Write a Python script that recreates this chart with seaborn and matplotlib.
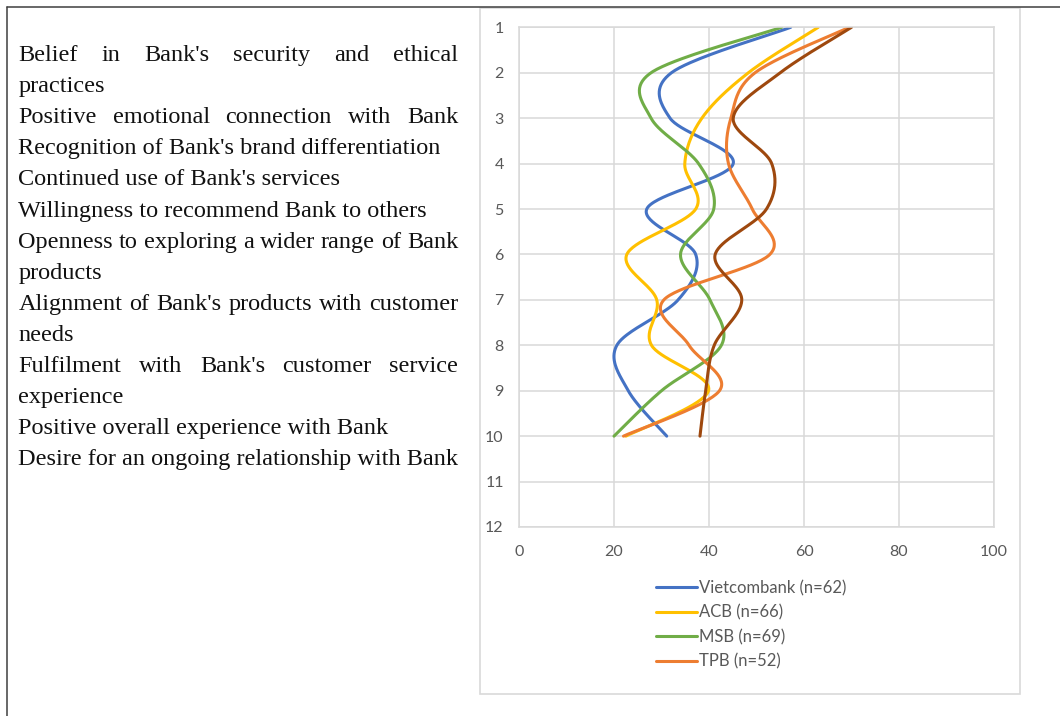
import numpy as np
import pandas as pd
import matplotlib
matplotlib.use("Agg")
import matplotlib.pyplot as plt
import seaborn as sns
from matplotlib.lines import Line2D
from matplotlib.patches import Rectangle

# ---- data -------------------------------------------------------------
levels = list(range(1, 11))
vietcombank = [57.2, 32.1, 31.8, 45.1, 26.9, 37.2, 33.5, 20.6, 23.0, 31.1]
acb = [63.0, 48.3, 38.5, 34.9, 37.2, 22.7, 29.0, 27.9, 39.9, 22.5]
msb = [55.3, 27.8, 27.8, 37.8, 41.0, 34.0, 40.2, 42.6, 30.0, 20.0]
tpb = [69.5, 49.7, 44.6, 44.1, 49.1, 52.8, 30.5, 35.8, 42.2, 22.0]
fifth_series = [70.0, 55.0, 45.1, 53.2, 52.1, 41.3, 46.9, 41.1, 39.3, 38.1]

series_names = ["Vietcombank (n=62)", "ACB (n=66)", "MSB (n=69)", "TPB (n=52)", "Series 5"]
legend_names = series_names[:4]
series_values = [vietcombank, acb, msb, tpb, fifth_series]
series_colors = ["#4472C4", "#FFC000", "#70AD47", "#ED7D31", "#9E480E"]

x_ticks = [0, 20, 40, 60, 80, 100]
y_ticks = list(range(1, 13))

statements = [
    ("Belief in Bank's security and ethical", True),
    ("practices", False),
    ("Positive emotional connection with Bank", True),
    ("Recognition of Bank's brand differentiation", False),
    ("Continued use of Bank's services", False),
    ("Willingness to recommend Bank to others", False),
    ("Openness to exploring a wider range of Bank", True),
    ("products", False),
    ("Alignment of Bank's products with customer", True),
    ("needs", False),
    ("Fulfilment with Bank's customer service", True),
    ("experience", False),
    ("Positive overall experience with Bank", False),
    ("Desire for an ongoing relationship with Bank", False),
]

# ---- figure geometry (pixels) ----------------------------------------
W, H = 1060, 716
PX_X, PX_Y = 4.75, 45.45  # pixel size of one data unit on each axis


def smooth_curve(xv, yv, n=40):
    """Cubic Bezier smoothing passing through every point (Catmull-Rom tangents)."""
    P = np.column_stack([np.asarray(xv) * PX_X, np.asarray(yv) * PX_Y])
    out = [P[0]]
    m = len(P)
    for i in range(m - 1):
        p0 = P[i - 1] if i > 0 else P[i]
        p1, p2 = P[i], P[i + 1]
        p3 = P[i + 2] if i + 2 < m else P[i + 1]
        c1 = p1 + (p2 - p0) / 6.0
        c2 = p2 - (p3 - p1) / 6.0
        t = np.linspace(0, 1, n)[1:, None]
        seg = ((1 - t) ** 3) * p1 + 3 * ((1 - t) ** 2) * t * c1 + 3 * (1 - t) * t ** 2 * c2 + t ** 3 * p2
        out.extend(seg)
    out = np.array(out)
    return out[:, 0] / PX_X, out[:, 1] / PX_Y


frames = []
for name, vals in zip(series_names, series_values):
    sx, sy = smooth_curve(vals, levels)
    frames.append(pd.DataFrame({"score": sx, "item": sy, "series": name}))
df = pd.concat(frames, ignore_index=True)

sns.set_style("white")
plt.rcParams["font.family"] = ["Lato", "DejaVu Sans"]

fig = plt.figure(figsize=(W / 100, H / 100), dpi=100)

ax = fig.add_axes([519 / W, 1 - 527 / H, 475 / W, (527 - 27.3) / H])
sns.lineplot(
    data=df, x="score", y="item", hue="series", hue_order=series_names,
    palette=dict(zip(series_names, series_colors)), sort=False, estimator=None,
    linewidth=2.2, legend=False, ax=ax,
)
ax.set_xlim(0, 100)
ax.set_ylim(12, 1)
ax.set_xticks(x_ticks)
ax.set_yticks(y_ticks)
ax.set_xlabel("")
ax.set_ylabel("")
ax.grid(True, color="#D9D9D9", linewidth=1.1)
ax.set_axisbelow(True)
for sp in ax.spines.values():
    sp.set_color("#D9D9D9")
    sp.set_linewidth(1.1)
ax.tick_params(axis="both", length=0, labelsize=11.5, labelcolor="#595959")
ax.tick_params(axis="y", pad=11)
ax.tick_params(axis="x", pad=13)

handles = [Line2D([], [], color=c, linewidth=2.2) for c in series_colors[:4]]
fig.legend(
    handles, legend_names, loc="upper left", bbox_to_anchor=(656 / W, 1 - 580 / H),
    frameon=False, fontsize=12, labelcolor="#595959", handlelength=2.45,
    handletextpad=0.15, labelspacing=0.50, borderpad=0, borderaxespad=0,
)

# chart frame and outer border
fig.add_artist(Rectangle((480 / W, 1 - 694 / H), 540 / W, (694 - 8) / H, fill=False,
                         edgecolor="#D9D9D9", linewidth=1.2, transform=fig.transFigure))
fig.add_artist(Line2D([7 / W, 1], [1 - 7 / H, 1 - 7 / H], color="#3F3F3F", linewidth=1.1,
                      transform=fig.transFigure))
fig.add_artist(Line2D([7 / W, 7 / W], [1 - 7 / H, 0], color="#3F3F3F", linewidth=1.1,
                      transform=fig.transFigure))

# left text panel with justified lines
renderer = fig.canvas.get_renderer()
left_px, right_px = 18.3, 458.3
first_base, line_gap = 61.0, 31.1
text_kw = dict(fontfamily="Liberation Serif", fontsize=17.5, color="#111111", va="baseline", ha="left")
for i, (line, justify) in enumerate(statements):
    yf = 1 - (first_base + i * line_gap) / H
    if not justify:
        fig.text(left_px / W, yf, line, **text_kw)
        continue
    words = line.split()
    objs = [fig.text(0, yf, w, **text_kw) for w in words]
    widths = [o.get_window_extent(renderer).width for o in objs]
    gap = (right_px - left_px - sum(widths)) / (len(words) - 1)
    x = left_px
    for o, w in zip(objs, widths):
        o.set_x(x / W)
        x += w + gap

fig.savefig("out.png", dpi=100)
